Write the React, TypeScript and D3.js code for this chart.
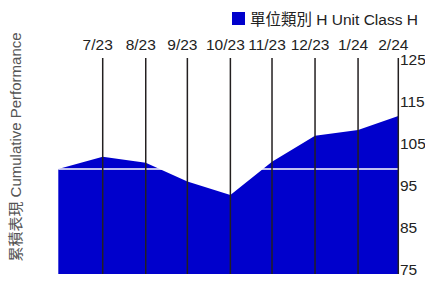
import React from "react";
import * as d3 from "d3";

// month-end NAV points, first one is inception
const dates = ["2023-06-29", "2023-07-31", "2023-08-31", "2023-09-30", "2023-10-31", "2023-11-30", "2023-12-31", "2024-01-31", "2024-02-29"];
const values = [100, 102.9, 101.5, 97.0, 93.8, 101.7, 107.9, 109.3, 112.6];
const monthLabels = ["7/23", "8/23", "9/23", "10/23", "11/23", "12/23", "1/24", "2/24"];
const yTicks = [75, 85, 95, 105, 115, 125];
const seriesName = "單位類別 H Unit Class H";
const axisTitle = "累積表現 Cumulative Performance";

const W = 425;
const H = 282;
const FONT = "'Liberation Sans', 'Noto Sans CJK TC', sans-serif";

export default function App() {
  const parse = d3.timeParse("%Y-%m-%d");
  const data = dates.map((d, i) => ({ date: parse(d) as Date, value: values[i] }));

  const x = d3.scaleTime()
    .domain(d3.extent(data, d => d.date) as [Date, Date])
    .range([58.3, 398.3]);
  const y = d3.scaleLinear().domain([75, 125]).range([274, 64]);
  const plotTop = 58;

  const area = d3.area<{ date: Date; value: number }>()
    .x(d => x(d.date))
    .y0(y(75))
    .y1(d => y(d.value));

  // gridlines sit on every month end after inception
  const monthEnds = data.slice(1);

  return (
    <svg width={W} height={H} style={{ position: "absolute", left: 0, top: 0, display: "block" }} fontFamily={FONT}>
      <rect x={232} y={12} width={13} height={13} fill="#0000cc" />
      <text x={250} y={25} fontSize={15.5} fill="#222">{seriesName}</text>

      <path d={area(data) || ""} fill="#0000cc" />
      <line x1={x.range()[0]} x2={x.range()[1]} y1={y(100)} y2={y(100)} stroke="#fff" strokeWidth={1.5} />

      {monthEnds.map((d, i) => (
        <g key={i}>
          <line x1={x(d.date)} x2={x(d.date)} y1={plotTop} y2={y(75)} stroke="#231f20" strokeWidth={1.5} />
          <text x={x(d.date) - 5} y={50} fontSize={15.5} fill="#222" textAnchor="middle">{monthLabels[i]}</text>
        </g>
      ))}

      {yTicks.map(t => (
        <text key={t} x={400} y={y(t) - 3} fontSize={15.5} fill="#222" dominantBaseline="middle">{t}</text>
      ))}

      <text transform={`translate(21,147) rotate(-90)`} fontSize={15} fill="#555" textAnchor="middle">{axisTitle}</text>
    </svg>
  );
}
